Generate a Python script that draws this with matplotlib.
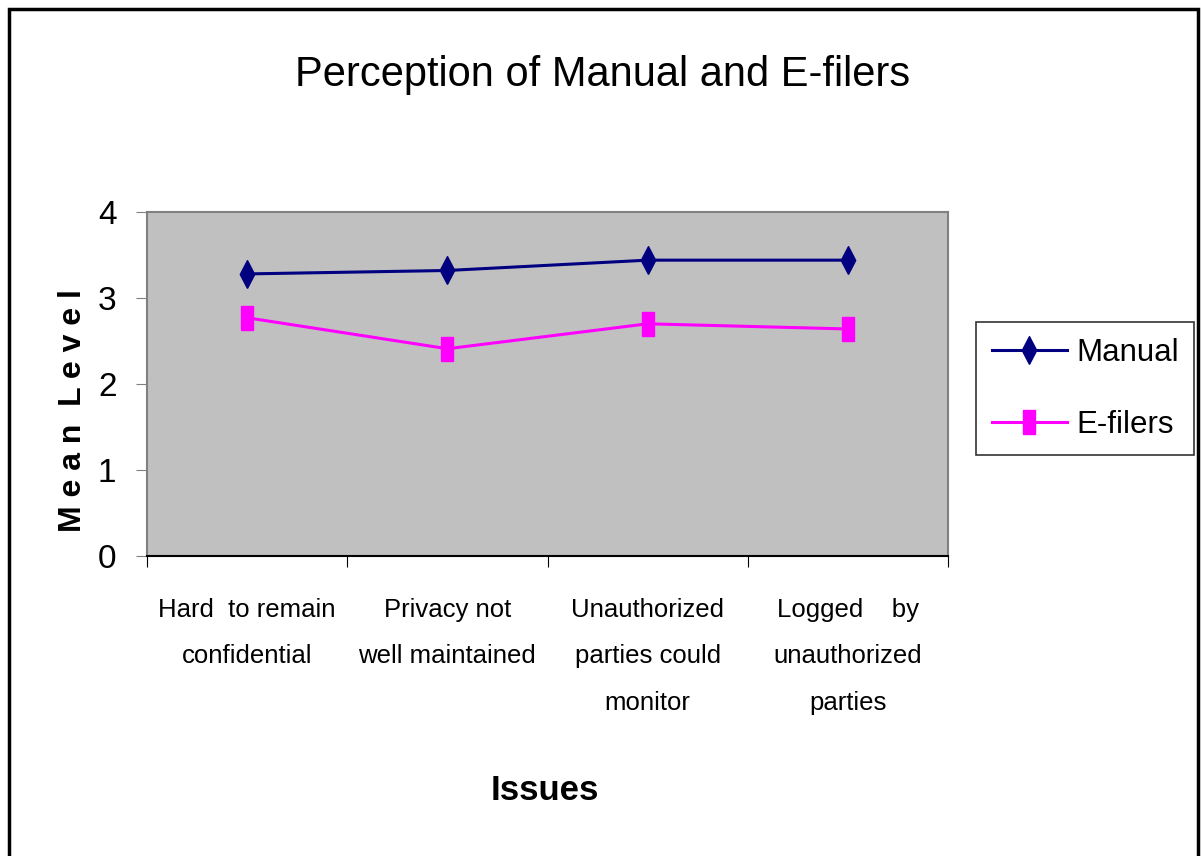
# Perception of manual vs e-filers, mean level per issue

import matplotlib
matplotlib.use("Agg")
import matplotlib.pyplot as plt
from matplotlib.patches import Rectangle

issues = [
    "Hard  to remain\nconfidential",
    "Privacy not\nwell maintained",
    "Unauthorized\nparties could\nmonitor",
    "Logged    by\nunauthorized\nparties",
]
manual = [3.28, 3.32, 3.44, 3.44]
efilers = [2.77, 2.41, 2.70, 2.64]

plt.rcParams["font.family"] = ["Liberation Sans", "DejaVu Sans"]

# tall, narrow markers like the original spreadsheet chart
diamond = [(0, -0.5), (0.26, 0), (0, 0.5), (-0.26, 0), (0, -0.5)]
rect = [(-0.25, -0.5), (0.25, -0.5), (0.25, 0.5), (-0.25, 0.5), (-0.25, -0.5)]


def plot_chart():
    fig = plt.figure(figsize=(12.01, 8.56), dpi=100)

    # outer chart frame (bottom edge runs off the picture)
    fig.patches.append(
        Rectangle((9 / 1201, -0.05), 1189 / 1201, 1.05 - 9 / 856,
                  transform=fig.transFigure, fill=False,
                  edgecolor="black", linewidth=2.5)
    )

    ax = fig.add_axes([147 / 1201, 300 / 856, 801 / 1201, 344 / 856])
    ax.set_facecolor("#c0c0c0")

    x = [i + 0.5 for i in range(len(issues))]
    ax.plot(x, manual, color="#000080", marker=diamond, markersize=20,
            linewidth=2.2, label="Manual")
    ax.plot(x, efilers, color="#ff00ff", marker=rect, markersize=17,
            linewidth=2.2, label="E-filers")

    ax.set_xlim(0, len(issues))
    ax.set_ylim(0, 4)
    ax.set_yticks([0, 1, 2, 3, 4])
    ax.set_xticks(range(len(issues) + 1))
    ax.set_xticklabels([])
    ax.set_xticks(x, minor=True)
    ax.set_xticklabels(issues, minor=True, fontsize=18.5, linespacing=2.2)
    ax.tick_params(axis="x", which="minor", length=0, pad=30)
    ax.tick_params(axis="x", which="major", length=8, color="black")
    ax.tick_params(axis="y", length=8, color="#808080", labelsize=24, pad=14)

    for side in ["top", "right", "left"]:
        ax.spines[side].set_color("#808080")
        ax.spines[side].set_linewidth(1.5)
    ax.spines["bottom"].set_color("black")
    ax.spines["bottom"].set_linewidth(1.5)

    ax.set_ylabel("M e a n  L e v e l", fontsize=23, fontweight="bold")
    ax.yaxis.set_label_coords(-0.074, 0.424)
    ax.set_xlabel("Issues", fontsize=25, fontweight="bold")
    ax.xaxis.set_label_coords(0.497, -0.634)

    fig.text(603 / 1201, 1 - 75 / 856, "Perception of Manual and E-filers",
             ha="center", va="center", fontsize=30)

    leg = ax.legend(loc="upper left", bbox_to_anchor=(976 / 1201, 1 - 322 / 856),
                    bbox_transform=fig.transFigure, fontsize=22.5,
                    frameon=True, fancybox=False, edgecolor="black",
                    handlelength=2.4, borderpad=0.5, labelspacing=1.35,
                    handletextpad=0.3, borderaxespad=0)
    leg.get_frame().set_linewidth(1.2)

    fig.savefig("out.png", dpi=100)


if __name__ == "__main__":
    plot_chart()
